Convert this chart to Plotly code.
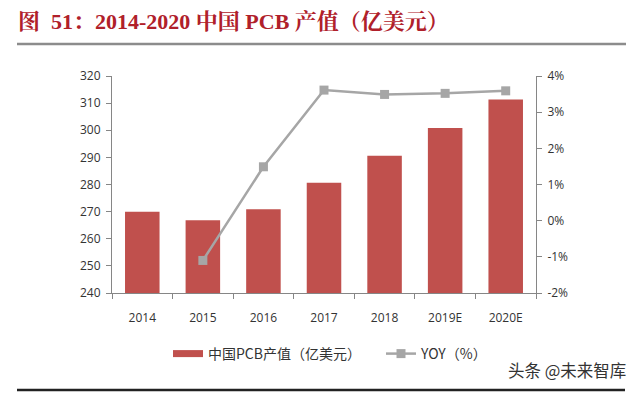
import plotly.graph_objects as go

categories = ["2014", "2015", "2016", "2017", "2018", "2019E", "2020E"]
pcb_value = [270.0, 266.8, 270.9, 280.6, 290.6, 300.8, 311.3]
yoy_years = ["2015", "2016", "2017", "2018", "2019E", "2020E"]
yoy_pct = [-1.1, 1.49, 3.61, 3.49, 3.52, 3.59]
left_ticks = [240, 250, 260, 270, 280, 290, 300, 310, 320]
right_ticks = [-2, -1, 0, 1, 2, 3, 4]

W, H = 640, 393
OFF = 8  # page body margin offset in the screenshot
# plot area in screenshot coords: x 112..536, y 76..293
ml = 112 - OFF
mt = 76 - OFF
mr = W - (536 - OFF)
mb = H - (293 - OFF)
ph = H - mt - mb
pw = W - ml - mr

def px(x):
    return (x - OFF - ml) / pw

def py(y):
    return (H - mb - (y - OFF)) / ph

BAR_COLOR = "#C0504D"
LINE_COLOR = "#A6A6A6"

fig = go.Figure()
fig.add_trace(go.Bar(
    x=categories, y=pcb_value, name="中国PCB产值（亿美元）", showlegend=False,
    marker=dict(color=BAR_COLOR, line=dict(width=0)),
))
fig.add_trace(go.Scatter(
    x=[None], y=[None], name="中国PCB产值（亿美元）", mode="lines",
    line=dict(color=BAR_COLOR, width=7),
))
fig.add_trace(go.Scatter(
    x=yoy_years, y=yoy_pct, name="YOY（%）", yaxis="y2", mode="lines+markers",
    line=dict(color=LINE_COLOR, width=2.5),
    marker=dict(symbol="square", size=9, color=LINE_COLOR),
))

tickfont = dict(family="Open Sans, Noto Sans CJK SC, sans-serif", size=12, color="#333333")
fig.update_layout(
    width=W, height=H,
    margin=dict(l=ml, r=mr, t=mt, b=mb, pad=0, autoexpand=False),
    paper_bgcolor="white", plot_bgcolor="white",
    bargap=0.43,
    showlegend=True,
    legend=dict(orientation="h", x=px(168), y=py(354), xanchor="left", yanchor="middle",
                font=dict(family="Noto Sans CJK SC, sans-serif", size=14, color="#333333"),
                itemwidth=30, tracegroupgap=0, bgcolor="rgba(0,0,0,0)",
                entrywidth=168, entrywidthmode="pixels"),
    xaxis=dict(type="category", showline=True, linecolor="#868686", linewidth=1,
               ticks="outside", tickson="boundaries", ticklen=5, tickcolor="#868686",
               tickfont=tickfont, showgrid=False, ticklabelstandoff=14),
    yaxis=dict(range=[240, 320], tickvals=left_ticks, showline=True, linecolor="#868686",
               linewidth=1, ticks="outside", ticklen=5, tickcolor="#868686",
               tickfont=tickfont, showgrid=False, zeroline=False, ticklabelstandoff=3),
    yaxis2=dict(range=[-2, 4], tickvals=right_ticks, ticktext=[f"{v}%" for v in right_ticks],
                overlaying="y", side="right", showline=True, linecolor="#868686",
                linewidth=1, ticks="outside", ticklen=5, tickcolor="#868686",
                tickfont=tickfont, showgrid=False, zeroline=False, ticklabelstandoff=3),
)

fig.add_annotation(
    xref="paper", yref="paper", x=px(16), y=py(22), xanchor="left", yanchor="middle",
    text="<b>图  51：2014-2020 中国 PCB 产值（亿美元）</b>", showarrow=False,
    font=dict(family="Liberation Serif, Noto Serif CJK SC, Noto Sans CJK SC, serif", size=22, color="#B0202A"),
)
fig.add_shape(type="line", xref="paper", yref="paper", x0=px(17), x1=px(626), y0=py(44), y1=py(44),
              line=dict(color="#8C8C8C", width=2.5))
fig.add_shape(type="line", xref="paper", yref="paper", x0=px(17), x1=px(625), y0=py(390), y1=py(390),
              line=dict(color="#222222", width=2.5))
fig.add_annotation(
    xref="paper", yref="paper", x=px(628), y=py(370), xanchor="right", yanchor="middle",
    text="头条 @未来智库", showarrow=False,
    font=dict(family="Noto Sans CJK SC, sans-serif", size=16.5, color="#333333"),
)

fig.write_html("out.html")
